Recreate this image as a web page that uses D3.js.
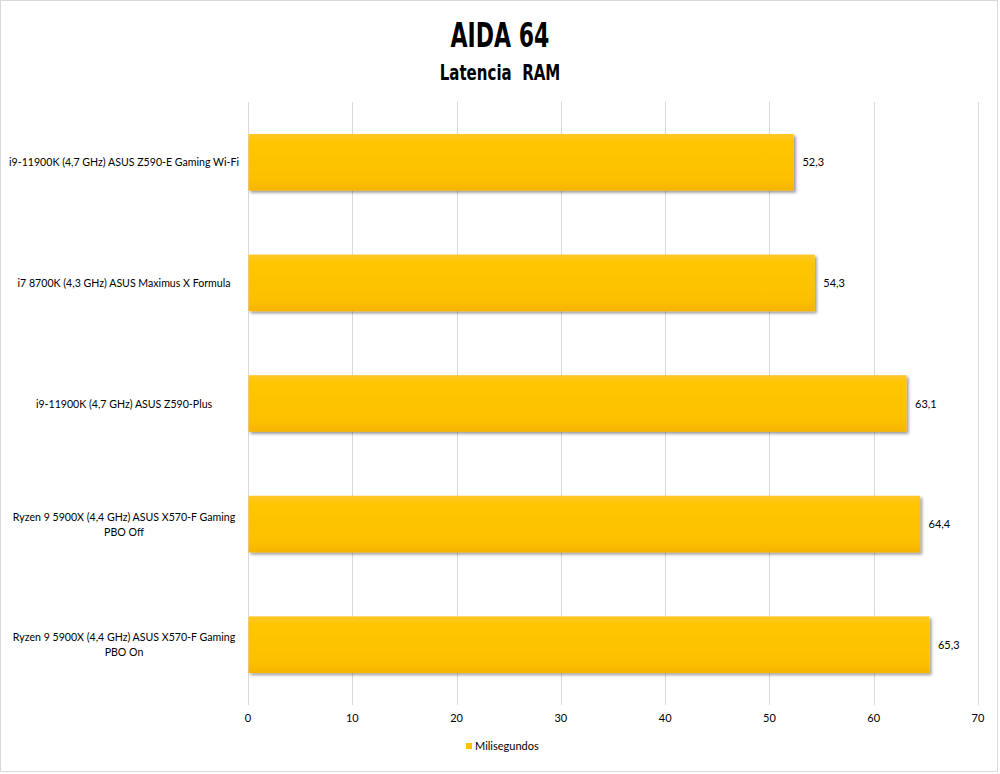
<!DOCTYPE html>
<html>
<head>
<meta charset="utf-8">
<script src="https://cdn.jsdelivr.net/npm/d3@7"></script>
<style>
  body { margin: 0; background: #fff; }
  text { font-family: Lato, "Open Sans", sans-serif; }
</style>
</head>
<body>
<div class="graph"></div>
<script>
// chart data
const categories = [
  ["i9-11900K (4,7 GHz) ASUS Z590-E Gaming Wi-Fi"],
  ["i7 8700K (4,3 GHz) ASUS Maximus X Formula"],
  ["i9-11900K (4,7 GHz) ASUS Z590-Plus"],
  ["Ryzen 9 5900X (4,4 GHz) ASUS X570-F Gaming", "PBO Off"],
  ["Ryzen 9 5900X (4,4 GHz) ASUS X570-F Gaming", "PBO On"]
];
const values = [52.3, 54.3, 63.1, 64.4, 65.3];
const xTicks = [0, 10, 20, 30, 40, 50, 60, 70];
const seriesName = "Milisegundos";
const title = "AIDA 64";
const subtitle = "Latencia  RAM";

const W = 1000, H = 774;
const margin = {top: 102, left: 248};
const plotW = 730, plotH = 603;

const svg = d3.select(".graph").append("svg")
  .attr("width", W).attr("height", H);

// outer border
svg.append("rect")
  .attr("x", 0.5).attr("y", 0.5)
  .attr("width", W - 3).attr("height", H - 3)
  .attr("fill", "#fff").attr("stroke", "#d9d9d9");

const defs = svg.append("defs");
const grad = defs.append("linearGradient").attr("id", "barGrad")
  .attr("x1", 0).attr("y1", 0).attr("x2", 0).attr("y2", 1);
grad.append("stop").attr("offset", "0%").attr("stop-color", "#ffc72a");
grad.append("stop").attr("offset", "15%").attr("stop-color", "#ffc600");
grad.append("stop").attr("offset", "80%").attr("stop-color", "#fdc000");
grad.append("stop").attr("offset", "100%").attr("stop-color", "#f6b300");

const shadow = defs.append("filter").attr("id", "shadow")
  .attr("x", "-5%").attr("y", "-20%").attr("width", "115%").attr("height", "150%");
shadow.append("feDropShadow")
  .attr("dx", 2).attr("dy", 2).attr("stdDeviation", 1.8)
  .attr("flood-color", "#000").attr("flood-opacity", 0.4);

// titles
svg.append("text")
  .attr("x", 500).attr("y", 47)
  .attr("text-anchor", "middle")
  .style("font-family", "'DejaVu Sans Condensed', 'Liberation Sans Narrow', sans-serif")
  .style("font-weight", "bold")
  .style("font-size", "34px")
  .attr("transform", "translate(500,47) scale(0.72,1) translate(-500,-47)")
  .text(title);
svg.append("text")
  .attr("x", 500).attr("y", 80)
  .attr("text-anchor", "middle")
  .style("font-family", "'DejaVu Sans Condensed', 'Liberation Sans Narrow', sans-serif")
  .style("font-weight", "bold")
  .style("font-size", "22px")
  .style("white-space", "pre")
  .attr("transform", "translate(500,80) scale(0.76,1) translate(-500,-80)")
  .text(subtitle);

const g = svg.append("g")
  .attr("transform", "translate(" + margin.left + "," + margin.top + ")");

const x = d3.scaleLinear().domain([0, 70]).range([0, plotW]);
const y = d3.scaleBand().domain(d3.range(values.length)).range([0, plotH]).paddingInner(0.53).paddingOuter(0.265);

// gridlines
g.selectAll(".grid").data(xTicks).join("line")
  .attr("x1", d => Math.round(x(d)) + 0.5).attr("x2", d => Math.round(x(d)) + 0.5)
  .attr("y1", 0).attr("y2", plotH)
  .attr("stroke", "#d9d9d9");

// bars
g.selectAll(".bar").data(values).join("rect")
  .attr("x", 0.5)
  .attr("y", (d, i) => y(i))
  .attr("width", d => x(d))
  .attr("height", y.bandwidth())
  .attr("fill", "url(#barGrad)")
  .attr("filter", "url(#shadow)");

// value labels
g.selectAll(".val").data(values).join("text")
  .attr("x", d => x(d) + 9)
  .attr("y", (d, i) => y(i) + y.bandwidth() / 2 + 4)
  .style("font-size", "11px")
  .attr("fill", "#000")
  .text(d => d.toFixed(1).replace(".", ","));

// category labels
categories.forEach((lines, i) => {
  const t = g.append("text")
    .attr("text-anchor", "middle")
    .style("font-size", "10.6px")
    .attr("fill", "#000");
  const cy = y(i) + y.bandwidth() / 2;
  lines.forEach((ln, j) => {
    t.append("tspan")
      .attr("x", -124)
      .attr("y", cy + 4 + (j - (lines.length - 1) / 2) * 15)
      .text(ln);
  });
});

// x axis labels
g.selectAll(".tick").data(xTicks).join("text")
  .attr("x", d => x(d))
  .attr("y", plotH + 17)
  .attr("text-anchor", "middle")
  .style("font-size", "11px")
  .attr("fill", "#000")
  .text(d => d);

// legend
const lg = svg.append("g").attr("transform", "translate(466,743)");
lg.append("rect").attr("width", 6).attr("height", 6).attr("fill", "#ffc000");
lg.append("text").attr("x", 9).attr("y", 7)
  .style("font-size", "11px").attr("fill", "#000")
  .text(seriesName);
</script>
</body>
</html>
